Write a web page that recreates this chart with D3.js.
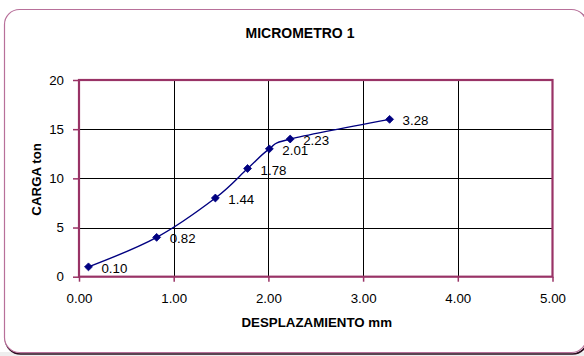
<!DOCTYPE html>
<html>
<head>
<meta charset="utf-8">
<script src="https://cdn.jsdelivr.net/npm/d3@7"></script>
<style>
  html, body { margin: 0; padding: 0; background: #ffffff; }
  svg { display: block; font-family: Arial, "Liberation Sans", sans-serif; }
</style>
</head>
<body>
<svg id="chart" width="584" height="356"></svg>
<script>
// Load test readings: displacement (mm) against load (ton)
const displacement = [0.10, 0.82, 1.44, 1.78, 2.01, 2.23, 3.28];
const load = [1, 4, 8, 11, 13, 14, 16];
const xTicks = [0, 1, 2, 3, 4, 5];
const yTicks = [0, 5, 10, 15, 20];
const chartTitle = "MICROMETRO 1";
const xTitle = "DESPLAZAMIENTO mm";
const yTitle = "CARGA ton";

const plum = "#993366";
const navy = "#000080";

const svg = d3.select("#chart");
const W = 584, H = 356;

// Page strip below the chart frame
svg.append("rect").attr("x", 0).attr("y", 0).attr("width", W).attr("height", H).attr("fill", "#eeeeee");
svg.append("rect").attr("x", 0).attr("y", 0).attr("width", W).attr("height", 352).attr("fill", "#ffffff");

// Chart frame with a dark shadow along its lower edge
const frame = { x: 4.5, y: 9.5, w: 582, h: 343 };
svg.append("rect")
  .attr("x", frame.x + 1).attr("y", frame.y + 1.5)
  .attr("width", frame.w).attr("height", frame.h)
  .attr("rx", 15).attr("ry", 15)
  .attr("fill", "none").attr("stroke", "#2a0d1e").attr("stroke-width", 1.6);
svg.append("rect")
  .attr("x", frame.x).attr("y", frame.y)
  .attr("width", frame.w).attr("height", frame.h)
  .attr("rx", 15).attr("ry", 15)
  .attr("fill", "#ffffff")
  .attr("stroke", "#b8709a").attr("stroke-width", 1.2);

const plot = { left: 79, right: 552.5, top: 80, bottom: 276.7 };

const x = d3.scaleLinear().domain([0, 5]).range([plot.left, plot.right]);
const y = d3.scaleLinear().domain([0, 20]).range([plot.bottom, plot.top]);

// Title
svg.append("text")
  .attr("x", 300).attr("y", 38)
  .attr("text-anchor", "middle")
  .style("font-weight", "bold").style("font-size", "14px")
  .text(chartTitle);

// Plot background
svg.append("rect")
  .attr("x", plot.left).attr("y", plot.top)
  .attr("width", plot.right - plot.left).attr("height", plot.bottom - plot.top)
  .attr("fill", "#ffffff");

// Grid lines
const g = svg.append("g");
g.selectAll(".vgrid").data(xTicks.slice(1, -1)).join("line")
  .attr("x1", d => Math.round(x(d)) + 0.5).attr("x2", d => Math.round(x(d)) + 0.5)
  .attr("y1", plot.top).attr("y2", plot.bottom)
  .attr("stroke", "#000").attr("stroke-width", 1);
g.selectAll(".hgrid").data(yTicks.slice(1, -1)).join("line")
  .attr("x1", plot.left).attr("x2", plot.right)
  .attr("y1", d => Math.round(y(d)) + 0.5).attr("y2", d => Math.round(y(d)) + 0.5)
  .attr("stroke", "#000").attr("stroke-width", 1);

// Axes with outward ticks
const xAxis = d3.axisBottom(x).tickValues(xTicks).tickFormat(d3.format(".2f"))
  .tickSize(5).tickPadding(12);
const yAxis = d3.axisLeft(y).tickValues(yTicks).tickFormat(d3.format("d"))
  .tickSize(6).tickPadding(9);

const gx = svg.append("g").attr("transform", `translate(0,${plot.bottom})`).call(xAxis);
const gy = svg.append("g").attr("transform", `translate(${plot.left},0)`).call(yAxis);
[gx, gy].forEach(a => {
  a.select(".domain").remove();
  a.selectAll(".tick line").attr("stroke", plum).attr("stroke-width", 1.5);
  a.selectAll(".tick text").attr("fill", "#000")
    .style("font-size", "13.3px").style("font-family", "Arial, 'Liberation Sans', sans-serif");
});

// Plot border
svg.append("rect")
  .attr("x", plot.left).attr("y", plot.top)
  .attr("width", plot.right - plot.left).attr("height", plot.bottom - plot.top)
  .attr("fill", "none").attr("stroke", plum).attr("stroke-width", 2.2);

// Axis titles
svg.append("text")
  .attr("x", (plot.left + plot.right) / 2 + 1).attr("y", 327)
  .attr("text-anchor", "middle")
  .style("font-weight", "bold").style("font-size", "13.3px")
  .text(xTitle);
svg.append("text")
  .attr("transform", `translate(41,${(plot.top + plot.bottom) / 2 + 1}) rotate(-90)`)
  .attr("text-anchor", "middle")
  .style("font-weight", "bold").style("font-size", "13.3px")
  .text(yTitle);

// Smoothed series line
const pts = displacement.map((d, i) => ({ dx: d, ld: load[i] }));
const line = d3.line()
  .x(d => x(d.dx)).y(d => y(d.ld))
  .curve(d3.curveCardinal.tension(0));
svg.append("path")
  .datum(pts)
  .attr("d", line)
  .attr("fill", "none").attr("stroke", navy).attr("stroke-width", 1.4);

// Diamond markers
const diamond = d3.symbol().type(d3.symbolDiamond2).size(40);
svg.selectAll(".pt").data(pts).join("path")
  .attr("transform", d => `translate(${x(d.dx)},${y(d.ld)})`)
  .attr("d", diamond)
  .attr("fill", navy).attr("stroke", navy).attr("stroke-width", 0.8);

// Value labels
svg.selectAll(".lbl").data(pts).join("text")
  .attr("x", d => x(d.dx) + 13).attr("y", d => y(d.ld) + 6)
  .style("font-size", "13.3px")
  .text(d => d3.format(".2f")(d.dx));
</script>
</body>
</html>
